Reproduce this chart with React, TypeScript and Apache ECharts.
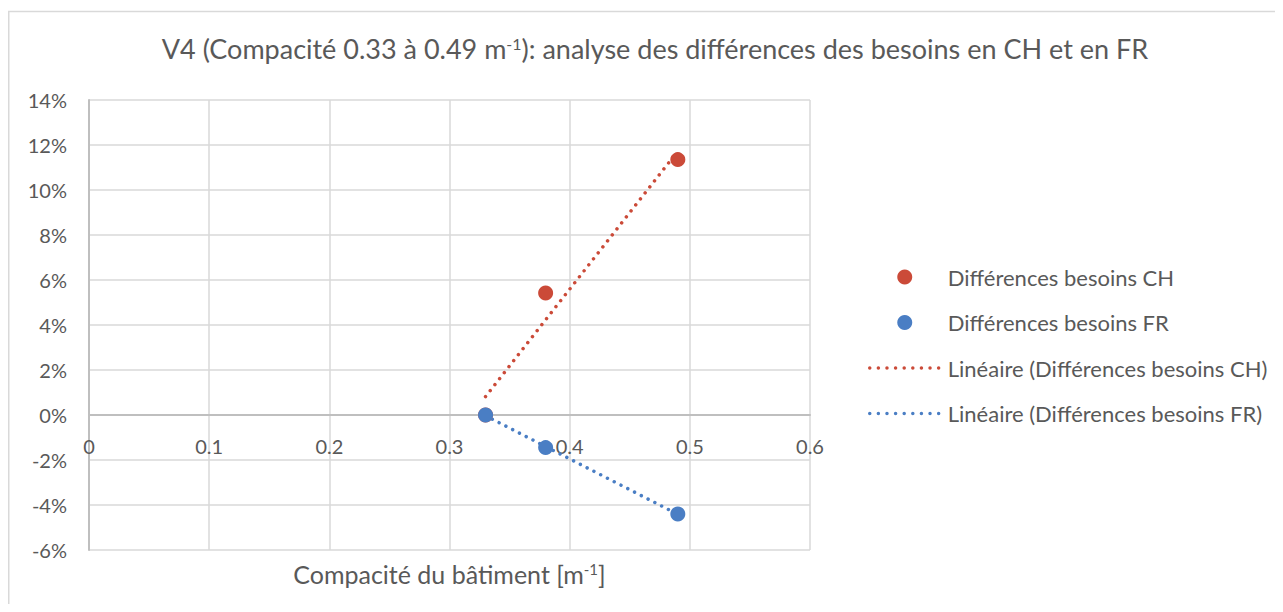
import React, { useEffect, useRef } from "react";
import * as echarts from "echarts";

const xCH = [0.33, 0.38, 0.49];
const yCH = [0, 5.42, 11.35];
const xFR = [0.33, 0.38, 0.49];
const yFR = [0, -1.45, -4.4];

const seriesNames = [
  "Différences besoins CH",
  "Différences besoins FR",
  "Linéaire (Différences besoins CH)",
  "Linéaire (Différences besoins FR)",
];

const xTicks = { min: 0, max: 0.6, interval: 0.1 };
const yTicks = { min: -6, max: 14, interval: 2 };

const RED = "#CB4A38";
const BLUE = "#4A7EC4";
const TEXT = "#595959";
const FONT = "Lato, 'Noto Sans', sans-serif";

function linearTrend(xs: number[], ys: number[]): number[][] {
  const n = xs.length;
  const mx = xs.reduce((a, b) => a + b, 0) / n;
  const my = ys.reduce((a, b) => a + b, 0) / n;
  let sxy = 0;
  let sxx = 0;
  for (let i = 0; i < n; i++) {
    sxy += (xs[i] - mx) * (ys[i] - my);
    sxx += (xs[i] - mx) * (xs[i] - mx);
  }
  const slope = sxy / sxx;
  const icpt = my - slope * mx;
  const x0 = Math.min(...xs);
  const x1 = Math.max(...xs);
  return [
    [x0, icpt + slope * x0],
    [x1, icpt + slope * x1],
  ];
}

const GRID_TOP = 92;
const GRID_BOTTOM = 54;
const CHART_H = 596;

export default function App() {
  const ref = useRef<HTMLDivElement>(null);
  useEffect(() => {
    if (!ref.current) return;
    const chart = echarts.init(ref.current, null, { renderer: "svg" });
    const dotted = [0.01, 7.6];
    const plotH = CHART_H - GRID_TOP - GRID_BOTTOM;
    const zeroOffset = (plotH * (0 - yTicks.min)) / (yTicks.max - yTicks.min);
    const hiddenSymbol = { opacity: 0, borderWidth: 0 };
    chart.setOption({
      animation: false,
      backgroundColor: "#ffffff",
      title: {
        text: "V4 (Compacité 0.33 à 0.49 m{sup|-1}): analyse des différences des besoins en CH et en FR",
        left: 642,
        top: 22,
        textAlign: "center",
        textStyle: {
          fontFamily: FONT,
          fontSize: 27,
          fontWeight: "normal",
          color: TEXT,
          rich: {
            sup: { fontFamily: FONT, fontSize: 16, color: TEXT, verticalAlign: "top", padding: [0, 0, 11, 0] },
          },
        },
      },
      grid: { left: 81, right: 465, top: GRID_TOP, bottom: GRID_BOTTOM, containLabel: false, outerBoundsMode: "none" },
      legend: {
        orient: "vertical",
        left: 855,
        top: 251,
        itemWidth: 70,
        itemHeight: 15,
        itemGap: 19.5,
        data: [
          { name: seriesNames[0], icon: "circle" },
          { name: seriesNames[1], icon: "circle" },
          {
            name: seriesNames[2],
            itemStyle: hiddenSymbol,
            lineStyle: { color: RED, width: 3.5, type: [0.01, 8.6], cap: "round" },
          },
          {
            name: seriesNames[3],
            itemStyle: hiddenSymbol,
            lineStyle: { color: BLUE, width: 3.5, type: [0.01, 8.6], cap: "round" },
          },
        ],
        textStyle: { fontFamily: FONT, fontSize: 22, color: TEXT, lineHeight: 26, padding: [0, 0, 0, 3] },
      },
      xAxis: {
        type: "value",
        min: xTicks.min,
        max: xTicks.max,
        interval: xTicks.interval,
        offset: -zeroOffset,
        axisLine: { show: true, onZero: false, lineStyle: { color: "#BFBFBF", width: 2 } },
        axisTick: { show: false },
        axisLabel: { fontFamily: FONT, fontSize: 20, color: TEXT, margin: 21 },
        splitLine: { show: true, lineStyle: { color: "#D9D9D9", width: 1.5 } },
        name: "Compacité du bâtiment [m{sup|-1}]",
        nameLocation: "middle",
        nameGap: 146,
        nameTextStyle: {
          fontFamily: FONT,
          fontSize: 25,
          color: TEXT,
          rich: {
            sup: { fontFamily: FONT, fontSize: 15, color: TEXT, verticalAlign: "top", padding: [0, 0, 10, 0] },
          },
        },
      },
      yAxis: {
        type: "value",
        min: yTicks.min,
        max: yTicks.max,
        interval: yTicks.interval,
        axisLine: { show: true, onZero: false, lineStyle: { color: "#BFBFBF", width: 2 } },
        axisTick: { show: false },
        axisLabel: { fontFamily: FONT, fontSize: 20, color: TEXT, margin: 22, formatter: (v: number) => `${v}%` },
        splitLine: { show: true, lineStyle: { color: "#D9D9D9", width: 1.5 } },
      },
      graphic: [
        { type: "line", shape: { x1: 0, y1: 3.5, x2: 1267, y2: 3.5 }, style: { stroke: "#D9D9D9", lineWidth: 1.5 } },
        { type: "line", shape: { x1: 0.75, y1: 3, x2: 0.75, y2: 596 }, style: { stroke: "#D9D9D9", lineWidth: 1.5 } },
      ],
      series: [
        {
          name: seriesNames[2],
          type: "line",
          data: linearTrend(xCH, yCH),
          symbol: "none",
          color: RED,
          lineStyle: { color: RED, width: 3.5, type: dotted, cap: "round" },
          z: 2,
        },
        {
          name: seriesNames[3],
          type: "line",
          data: linearTrend(xFR, yFR),
          symbol: "none",
          color: BLUE,
          lineStyle: { color: BLUE, width: 3.5, type: dotted, cap: "round" },
          z: 2,
        },
        {
          name: seriesNames[0],
          type: "scatter",
          data: xCH.map((x, i) => [x, yCH[i]]),
          symbolSize: 15,
          itemStyle: { color: RED, opacity: 1 },
          z: 3,
        },
        {
          name: seriesNames[1],
          type: "scatter",
          data: xFR.map((x, i) => [x, yFR[i]]),
          symbolSize: 15,
          itemStyle: { color: BLUE, opacity: 1 },
          z: 4,
        },
      ],
    });
    return () => chart.dispose();
  }, []);
  return <div ref={ref} style={{ width: 1267, height: CHART_H }} />;
}
